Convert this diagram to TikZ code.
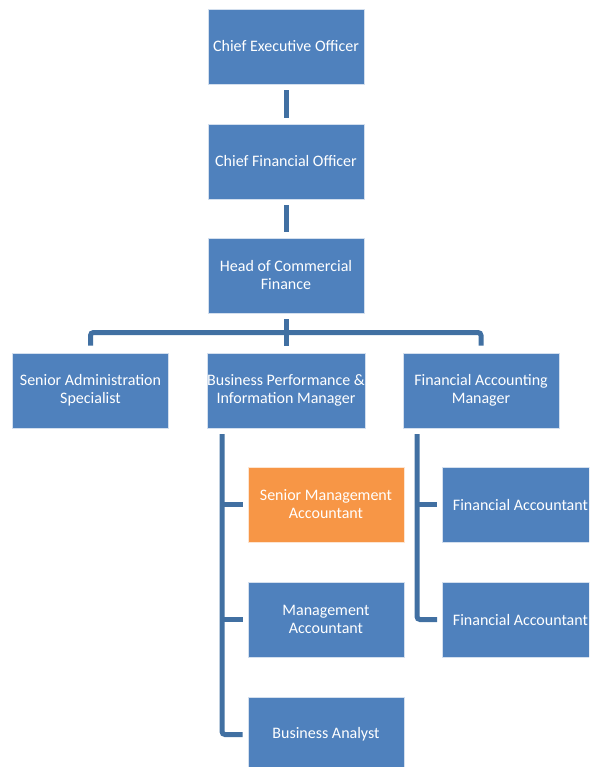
\documentclass[tikz,border=0pt]{standalone}
\usepackage{fontspec}
\setmainfont{Carlito}
\definecolor{boxblue}{HTML}{4F81BD}
\definecolor{boxorange}{HTML}{F79646}
\definecolor{connblue}{HTML}{4170A2}
\begin{document}
\begin{tikzpicture}[x=1pt,y=-1pt,
  box/.style={rectangle, fill=boxblue, draw=white!75!boxblue, line width=0.6pt,
    minimum width=156pt, minimum height=75pt, inner sep=0pt,
    text=white, align=center, font=\fontsize{16}{18}\selectfont},
  hbox/.style={box, fill=boxorange, draw=white!75!boxorange},
  conn/.style={draw=connblue, line width=5pt, rounded corners=3pt}]
\useasboundingbox (0,0) rectangle (589,767);
\begin{scope}
\clip (0,0) rectangle (589,767);
\node[box] (ceo) at (286,46.5) {Chief Executive Officer};
\node[box] (cfo) at (286,161.5) {Chief Financial Officer};
\node[box] (head) at (286,275.5) {Head of Commercial\\Finance};
\node[box] (sa) at (90.5,390.5) {Senior Administration\\Specialist};
\node[box] (bp) at (286,390.5) {Business Performance \&\\Information Manager};
\node[box] (fam) at (481,390.5) {Financial Accounting\\Manager};
\node[hbox] (sma) at (326,504.5) {Senior Management\\Accountant};
\node[box] (ma) at (326,619.5) {Management\\Accountant};
\node[box] (ba) at (326,734.5) {Business Analyst};
\node[box] (fa1) at (520.5,504.5) {Financial Accountant};
\node[box] (fa2) at (520.5,619.5) {Financial Accountant};
\end{scope}
\coordinate (bus) at (286,332.5);
\coordinate (spl) at (222,434);
\coordinate (spr) at (417,434);
% top chain
\draw[conn] ([yshift=-6pt]ceo.south) -- ([yshift=6pt]cfo.north);
\draw[conn] ([yshift=-6pt]cfo.south) -- ([yshift=6pt]head.north);
% bus
\draw[conn] ([yshift=-6pt]head.south) -- ([yshift=7pt]bp.north);
\draw[conn] ([yshift=7pt]sa.north) -- (sa.north |- bus) -- (fam.north |- bus) -- ([yshift=7pt]fam.north);
% left spine
\draw[conn] (spl) |- ([xshift=-5pt]ba.west);
\draw[conn, rounded corners=0pt] (spl |- sma.west) -- ([xshift=-5pt]sma.west);
\draw[conn, rounded corners=0pt] (spl |- ma.west) -- ([xshift=-5pt]ma.west);
% right spine
\draw[conn] (spr) |- ([xshift=-5pt]fa2.west);
\draw[conn, rounded corners=0pt] (spr |- fa1.west) -- ([xshift=-5pt]fa1.west);
\end{tikzpicture}
\end{document}
